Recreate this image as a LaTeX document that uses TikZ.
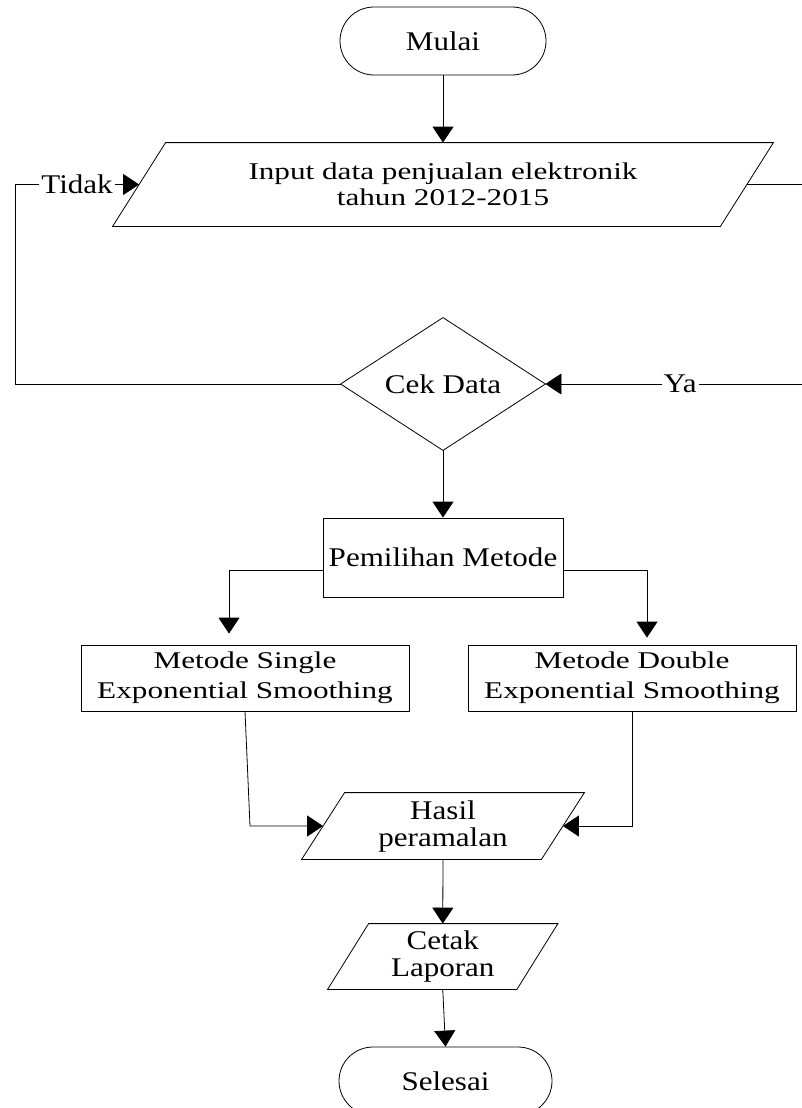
\documentclass[tikz,border=0pt]{standalone}
\usepackage{fontspec}
\setmainfont{Liberation Serif}[FakeStretch=1.15]
\newfontfamily\widefont{Liberation Serif}[FakeStretch=1.3]
\usetikzlibrary{arrows.meta}
\begin{document}
\begin{tikzpicture}[x=1pt,y=-1pt,
  line width=0.8pt,
  every node/.style={font=\fontsize{27}{27}\selectfont, inner sep=0pt, align=center},
  term/.style={draw, rounded corners=34pt, minimum width=#1, minimum height=68pt},
  procbox/.style={draw, minimum width=#1},
  blank/.style={minimum width=#1},
  widetext/.style={font=\widefont\fontsize{24}{#1}\selectfont},
  arr/.style={-{Triangle[length=16pt,width=21pt]}},
  lbl/.style={fill=white, inner sep=2pt}]
\useasboundingbox (0,0) rectangle (802,1108);
\clip (0,0) rectangle (802,1108);

% nodes
\node[term=206pt] (mulai) at (443,41) {Mulai};
\node[blank=607pt, minimum height=83pt, widetext=26] (input) at (443,184.5)
  {Input data penjualan elektronik\\tahun 2012-2015};
\draw ([xshift=26.5pt]input.north west) -- ([xshift=26.5pt]input.north east)
  -- ([xshift=-26.5pt]input.south east) -- ([xshift=-26.5pt]input.south west) -- cycle;
\node[blank=204pt, minimum height=132pt] (cek) at (443,384) {Cek Data};
\draw (cek.north) -- (cek.east) -- (cek.south) -- (cek.west) -- cycle;
\node[procbox=240pt, minimum height=79pt] (pem) at (443,557.5) {Pemilihan Metode};
\node[procbox=328pt, minimum height=66pt, widetext=30] (single) at (245,678)
  {Metode Single\\Exponential Smoothing};
\node[procbox=328pt, minimum height=66pt, widetext=30] (double) at (632,678)
  {Metode Double\\Exponential Smoothing};
\node[blank=239pt, minimum height=66pt] (hasil) at (443,826) {Hasil\\peramalan};
\draw ([xshift=21.5pt]hasil.north west) -- ([xshift=21.5pt]hasil.north east)
  -- ([xshift=-21.5pt]hasil.south east) -- ([xshift=-21.5pt]hasil.south west) -- cycle;
\node[blank=188.5pt, minimum height=65pt] (cetak) at (442.75,956.5) {Cetak\\Laporan};
\draw ([xshift=20.5pt]cetak.north west) -- ([xshift=20.5pt]cetak.north east)
  -- ([xshift=-20.5pt]cetak.south east) -- ([xshift=-20.5pt]cetak.south west) -- cycle;
\node[term=213pt] (selesai) at (445.5,1081) {Selesai};

% helper coordinates
\coordinate (tl) at (15,384);
\coordinate (yr) at (815,184.5);
\coordinate (bl) at (229,570);
\coordinate (br) at (647,570);
\coordinate (sh) at (250,826);

% connectors
\draw[arr] (mulai.south) -- (input.north);
\draw[arr] (cek.west) -- (tl) -- (tl |- input.west)
  -- node[lbl, pos=0.5] {Tidak} (input.west);
\draw[arr] (input.east) -- (yr) -- (yr |- cek.east)
  -- node[lbl, pos=0.5] {Ya} (cek.east);
\draw[arr] (cek.south) -- (pem.north);
\draw[arr, shorten >=11pt] (pem.west |- bl) -- (bl) -- (bl |- single.north);
\draw[arr, shorten >=7pt] (pem.east |- br) -- (br) -- (br |- double.north);
\draw[arr] (single.south) -- (sh) -- (hasil.west);
\draw[arr] (double.south) -- (double.south |- hasil.east) -- (hasil.east);
\draw[arr] (hasil.south) -- (cetak.north);
\draw[arr] (cetak.south) -- (selesai.north);
\end{tikzpicture}
\end{document}
